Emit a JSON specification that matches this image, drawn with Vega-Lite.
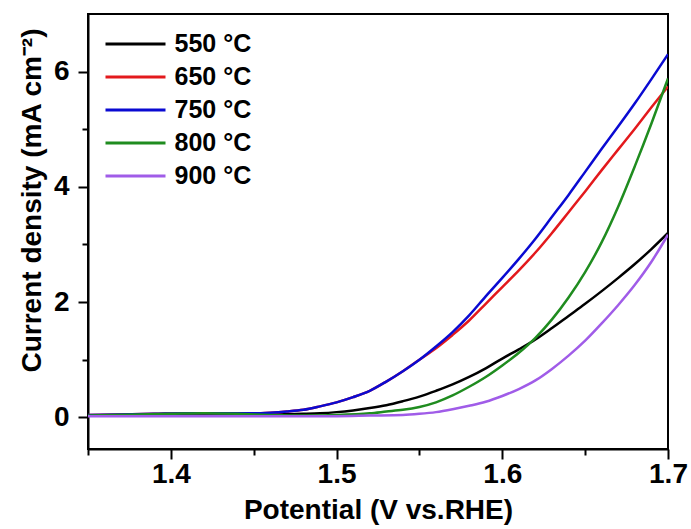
{
  "$schema": "https://vega.github.io/schema/vega-lite/v6.json",
  "width": 580,
  "height": 435,
  "autosize": "none",
  "padding": {"left": 88, "top": 14, "right": 23, "bottom": 80},
  "background": "white",
  "config": {"view": {"stroke": "black", "strokeWidth": 2}, "font": "Liberation Sans"},
  "data": {"values": [
    {"T": "550 °C", "V": 1.35, "J": 0.03}, {"T": "550 °C", "V": 1.38, "J": 0.04}, {"T": "550 °C", "V": 1.40, "J": 0.05}, {"T": "550 °C", "V": 1.42, "J": 0.05}, {"T": "550 °C", "V": 1.44, "J": 0.05}, {"T": "550 °C", "V": 1.46, "J": 0.05}, {"T": "550 °C", "V": 1.48, "J": 0.06}, {"T": "550 °C", "V": 1.49, "J": 0.07}, {"T": "550 °C", "V": 1.50, "J": 0.09}, {"T": "550 °C", "V": 1.51, "J": 0.12}, {"T": "550 °C", "V": 1.52, "J": 0.16}, {"T": "550 °C", "V": 1.53, "J": 0.21}, {"T": "550 °C", "V": 1.54, "J": 0.28}, {"T": "550 °C", "V": 1.55, "J": 0.36}, {"T": "550 °C", "V": 1.56, "J": 0.46}, {"T": "550 °C", "V": 1.57, "J": 0.57}, {"T": "550 °C", "V": 1.58, "J": 0.70}, {"T": "550 °C", "V": 1.59, "J": 0.85}, {"T": "550 °C", "V": 1.60, "J": 1.02}, {"T": "550 °C", "V": 1.61, "J": 1.18}, {"T": "550 °C", "V": 1.62, "J": 1.35}, {"T": "550 °C", "V": 1.63, "J": 1.55}, {"T": "550 °C", "V": 1.64, "J": 1.76}, {"T": "550 °C", "V": 1.65, "J": 1.97}, {"T": "550 °C", "V": 1.66, "J": 2.19}, {"T": "550 °C", "V": 1.67, "J": 2.42}, {"T": "550 °C", "V": 1.68, "J": 2.66}, {"T": "550 °C", "V": 1.69, "J": 2.92}, {"T": "550 °C", "V": 1.70, "J": 3.20},
    {"T": "650 °C", "V": 1.35, "J": 0.04}, {"T": "650 °C", "V": 1.37, "J": 0.05}, {"T": "650 °C", "V": 1.39, "J": 0.06}, {"T": "650 °C", "V": 1.41, "J": 0.07}, {"T": "650 °C", "V": 1.43, "J": 0.07}, {"T": "650 °C", "V": 1.45, "J": 0.07}, {"T": "650 °C", "V": 1.46, "J": 0.08}, {"T": "650 °C", "V": 1.47, "J": 0.10}, {"T": "650 °C", "V": 1.48, "J": 0.13}, {"T": "650 °C", "V": 1.49, "J": 0.19}, {"T": "650 °C", "V": 1.50, "J": 0.26}, {"T": "650 °C", "V": 1.51, "J": 0.35}, {"T": "650 °C", "V": 1.52, "J": 0.46}, {"T": "650 °C", "V": 1.53, "J": 0.62}, {"T": "650 °C", "V": 1.54, "J": 0.80}, {"T": "650 °C", "V": 1.55, "J": 1.00}, {"T": "650 °C", "V": 1.56, "J": 1.20}, {"T": "650 °C", "V": 1.57, "J": 1.43}, {"T": "650 °C", "V": 1.58, "J": 1.68}, {"T": "650 °C", "V": 1.59, "J": 1.97}, {"T": "650 °C", "V": 1.60, "J": 2.26}, {"T": "650 °C", "V": 1.61, "J": 2.55}, {"T": "650 °C", "V": 1.62, "J": 2.86}, {"T": "650 °C", "V": 1.63, "J": 3.20}, {"T": "650 °C", "V": 1.64, "J": 3.56}, {"T": "650 °C", "V": 1.65, "J": 3.92}, {"T": "650 °C", "V": 1.66, "J": 4.29}, {"T": "650 °C", "V": 1.67, "J": 4.65}, {"T": "650 °C", "V": 1.68, "J": 5.01}, {"T": "650 °C", "V": 1.69, "J": 5.38}, {"T": "650 °C", "V": 1.70, "J": 5.74},
    {"T": "750 °C", "V": 1.35, "J": 0.04}, {"T": "750 °C", "V": 1.37, "J": 0.05}, {"T": "750 °C", "V": 1.39, "J": 0.06}, {"T": "750 °C", "V": 1.41, "J": 0.07}, {"T": "750 °C", "V": 1.43, "J": 0.07}, {"T": "750 °C", "V": 1.45, "J": 0.07}, {"T": "750 °C", "V": 1.46, "J": 0.08}, {"T": "750 °C", "V": 1.47, "J": 0.10}, {"T": "750 °C", "V": 1.48, "J": 0.13}, {"T": "750 °C", "V": 1.49, "J": 0.19}, {"T": "750 °C", "V": 1.50, "J": 0.26}, {"T": "750 °C", "V": 1.51, "J": 0.35}, {"T": "750 °C", "V": 1.52, "J": 0.46}, {"T": "750 °C", "V": 1.53, "J": 0.62}, {"T": "750 °C", "V": 1.54, "J": 0.80}, {"T": "750 °C", "V": 1.55, "J": 1.00}, {"T": "750 °C", "V": 1.56, "J": 1.23}, {"T": "750 °C", "V": 1.57, "J": 1.48}, {"T": "750 °C", "V": 1.58, "J": 1.77}, {"T": "750 °C", "V": 1.59, "J": 2.10}, {"T": "750 °C", "V": 1.60, "J": 2.42}, {"T": "750 °C", "V": 1.61, "J": 2.75}, {"T": "750 °C", "V": 1.62, "J": 3.10}, {"T": "750 °C", "V": 1.63, "J": 3.48}, {"T": "750 °C", "V": 1.64, "J": 3.86}, {"T": "750 °C", "V": 1.65, "J": 4.26}, {"T": "750 °C", "V": 1.66, "J": 4.66}, {"T": "750 °C", "V": 1.67, "J": 5.05}, {"T": "750 °C", "V": 1.68, "J": 5.45}, {"T": "750 °C", "V": 1.69, "J": 5.87}, {"T": "750 °C", "V": 1.70, "J": 6.30},
    {"T": "800 °C", "V": 1.35, "J": 0.03}, {"T": "800 °C", "V": 1.38, "J": 0.05}, {"T": "800 °C", "V": 1.40, "J": 0.06}, {"T": "800 °C", "V": 1.42, "J": 0.07}, {"T": "800 °C", "V": 1.44, "J": 0.06}, {"T": "800 °C", "V": 1.46, "J": 0.04}, {"T": "800 °C", "V": 1.48, "J": 0.03}, {"T": "800 °C", "V": 1.50, "J": 0.04}, {"T": "800 °C", "V": 1.52, "J": 0.07}, {"T": "800 °C", "V": 1.53, "J": 0.10}, {"T": "800 °C", "V": 1.54, "J": 0.13}, {"T": "800 °C", "V": 1.55, "J": 0.18}, {"T": "800 °C", "V": 1.56, "J": 0.26}, {"T": "800 °C", "V": 1.57, "J": 0.38}, {"T": "800 °C", "V": 1.58, "J": 0.53}, {"T": "800 °C", "V": 1.59, "J": 0.70}, {"T": "800 °C", "V": 1.60, "J": 0.90}, {"T": "800 °C", "V": 1.61, "J": 1.12}, {"T": "800 °C", "V": 1.62, "J": 1.38}, {"T": "800 °C", "V": 1.63, "J": 1.70}, {"T": "800 °C", "V": 1.64, "J": 2.08}, {"T": "800 °C", "V": 1.65, "J": 2.52}, {"T": "800 °C", "V": 1.66, "J": 3.04}, {"T": "800 °C", "V": 1.67, "J": 3.66}, {"T": "800 °C", "V": 1.68, "J": 4.36}, {"T": "800 °C", "V": 1.69, "J": 5.10}, {"T": "800 °C", "V": 1.70, "J": 5.88},
    {"T": "900 °C", "V": 1.35, "J": 0.02}, {"T": "900 °C", "V": 1.40, "J": 0.02}, {"T": "900 °C", "V": 1.45, "J": 0.02}, {"T": "900 °C", "V": 1.50, "J": 0.02}, {"T": "900 °C", "V": 1.52, "J": 0.03}, {"T": "900 °C", "V": 1.54, "J": 0.04}, {"T": "900 °C", "V": 1.55, "J": 0.06}, {"T": "900 °C", "V": 1.56, "J": 0.09}, {"T": "900 °C", "V": 1.57, "J": 0.14}, {"T": "900 °C", "V": 1.58, "J": 0.20}, {"T": "900 °C", "V": 1.59, "J": 0.27}, {"T": "900 °C", "V": 1.60, "J": 0.37}, {"T": "900 °C", "V": 1.61, "J": 0.49}, {"T": "900 °C", "V": 1.62, "J": 0.64}, {"T": "900 °C", "V": 1.63, "J": 0.84}, {"T": "900 °C", "V": 1.64, "J": 1.07}, {"T": "900 °C", "V": 1.65, "J": 1.33}, {"T": "900 °C", "V": 1.66, "J": 1.63}, {"T": "900 °C", "V": 1.67, "J": 1.95}, {"T": "900 °C", "V": 1.68, "J": 2.30}, {"T": "900 °C", "V": 1.69, "J": 2.70}, {"T": "900 °C", "V": 1.70, "J": 3.17}
  ]},
  "mark": {"type": "line", "strokeWidth": 2.5, "clip": true, "interpolate": "monotone"},
  "encoding": {
    "x": {
      "field": "V", "type": "quantitative",
      "scale": {"domain": [1.35, 1.7], "nice": false, "zero": false},
      "axis": {
        "title": "Potential (V vs.RHE)",
        "values": [1.35, 1.4, 1.45, 1.5, 1.55, 1.6, 1.65, 1.7],
        "labelExpr": "round(datum.value*20) % 2 == 0 ? format(datum.value, '.1f') : ''",
        "tickSize": {"condition": {"test": "round(datum.value*20) % 2 == 1", "value": 6}, "value": 10},
        "tickWidth": 2, "tickColor": "black", "domainColor": "black", "domainWidth": 2,
        "grid": false, "labelFlush": false, "labelOverlap": false,
        "labelFont": "Liberation Sans", "labelFontWeight": "bold", "labelFontSize": 28, "labelColor": "black", "labelPadding": 1,
        "titleFont": "Liberation Sans", "titleFontWeight": "bold", "titleFontSize": 28, "titleColor": "black", "titlePadding": 8
      }
    },
    "y": {
      "field": "J", "type": "quantitative",
      "scale": {"domain": [-0.55, 7], "nice": false, "zero": false},
      "axis": {
        "title": "Current density (mA cm⁻²)",
        "values": [0, 1, 2, 3, 4, 5, 6],
        "labelExpr": "datum.value % 2 == 0 ? datum.label : ''",
        "tickSize": {"condition": {"test": "datum.value % 2 == 1", "value": 6}, "value": 10},
        "tickWidth": 2, "tickColor": "black", "domainColor": "black", "domainWidth": 2,
        "grid": false, "labelOverlap": false, "labelFlush": false,
        "labelFont": "Liberation Sans", "labelFontWeight": "bold", "labelFontSize": 28, "labelColor": "black", "labelPadding": 9,
        "titleFont": "Liberation Sans", "titleFontWeight": "bold", "titleFontSize": 28, "titleColor": "black",
        "titleX": -56, "titleY": 186, "titleBaseline": "middle", "titleAlign": "center", "titleAngle": -90
      }
    },
    "color": {
      "field": "T", "type": "nominal",
      "scale": {"domain": ["550 °C", "650 °C", "750 °C", "800 °C", "900 °C"], "range": ["#000000", "#e3191c", "#0a0ad2", "#1f8c1f", "#a05ce8"]},
      "legend": {
        "orient": "none", "legendX": 35, "legendY": 17.5, "title": null, "padding": 0,
        "symbolType": "M-3,0H3", "symbolSize": 400, "symbolStrokeWidth": 3,
        "labelFont": "Liberation Sans", "labelFontWeight": "bold", "labelFontSize": 25, "labelColor": "black",
        "labelOffset": 26.5, "rowPadding": 7
      }
    }
  }
}
